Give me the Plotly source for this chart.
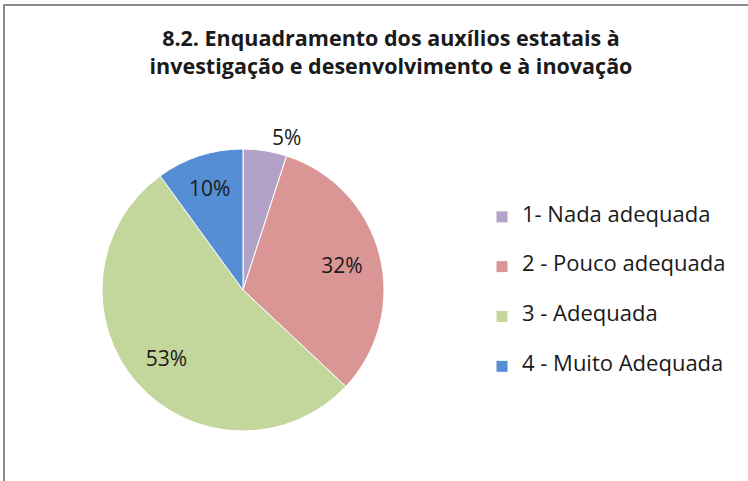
import plotly.graph_objects as go

categories = ["1- Nada adequada", "2 - Pouco adequada", "3 - Adequada", "4 - Muito Adequada"]
values = [5, 32, 53, 10]
colors = ["#B3A2C7", "#D99694", "#C3D69B", "#558ED5"]
text_positions = ["outside", "inside", "inside", "inside"]

W, H = 748, 481
FONT = "Open Sans"
TXT = "#1a1a1a"

legend_labels = ["<br><span style='font-size:22px'>" + c + "</span><br>" for c in categories]
pie_domain = dict(x=[102 / W, 384 / W], y=[1 - 431 / H, 1 - 149 / H])

# main pie (colours + legend)
fig = go.Figure(go.Pie(
    labels=legend_labels,
    values=values,
    sort=False,
    direction="clockwise",
    rotation=0,
    marker=dict(colors=colors, line=dict(color="white", width=1)),
    textinfo="none",
    hoverinfo="label+percent",
    domain=pie_domain,
))

# transparent ring overlay carrying the percentage labels (placed further out like the original)
fig.add_trace(go.Pie(
    labels=legend_labels,
    values=values,
    sort=False,
    direction="clockwise",
    rotation=0,
    hole=0.45,
    showlegend=False,
    marker=dict(colors=["rgba(0,0,0,0)"] * len(values), line=dict(width=0)),
    texttemplate="%{percent:.0%}",
    textposition=text_positions,
    insidetextorientation="horizontal",
    textfont=dict(family=FONT, size=21, color=TXT),
    outsidetextfont=dict(family=FONT, size=21, color=TXT),
    hoverinfo="skip",
    domain=pie_domain,
))

fig.update_layout(
    width=W, height=H,
    margin=dict(l=0, r=0, t=0, b=0),
    paper_bgcolor="white",
    plot_bgcolor="white",
    font=dict(family=FONT, color=TXT),
    title=dict(
        text="<b>8.2. Enquadramento dos auxílios estatais à<br>investigação e desenvolvimento e à inovação</b>",
        x=391 / W, xanchor="center",
        y=1 - 46 / H, yanchor="top",
        font=dict(family=FONT, size=21.5, color=TXT),
    ),
    showlegend=True,
    legend=dict(
        x=482 / W, xanchor="left",
        y=1 - 292 / H, yanchor="middle",
        font=dict(family=FONT, size=12.0, color=TXT),
        bgcolor="rgba(0,0,0,0)",
    ),
    shapes=[dict(
        type="rect", xref="paper", yref="paper",
        x0=4 / W, x1=1.05, y0=-0.05, y1=1 - 5 / H,
        line=dict(color="#8c8c8c", width=2),
    )],
)

fig.write_html("out.html", config={"displayModeBar": False},
               post_script="document.body.style.margin='0';")
